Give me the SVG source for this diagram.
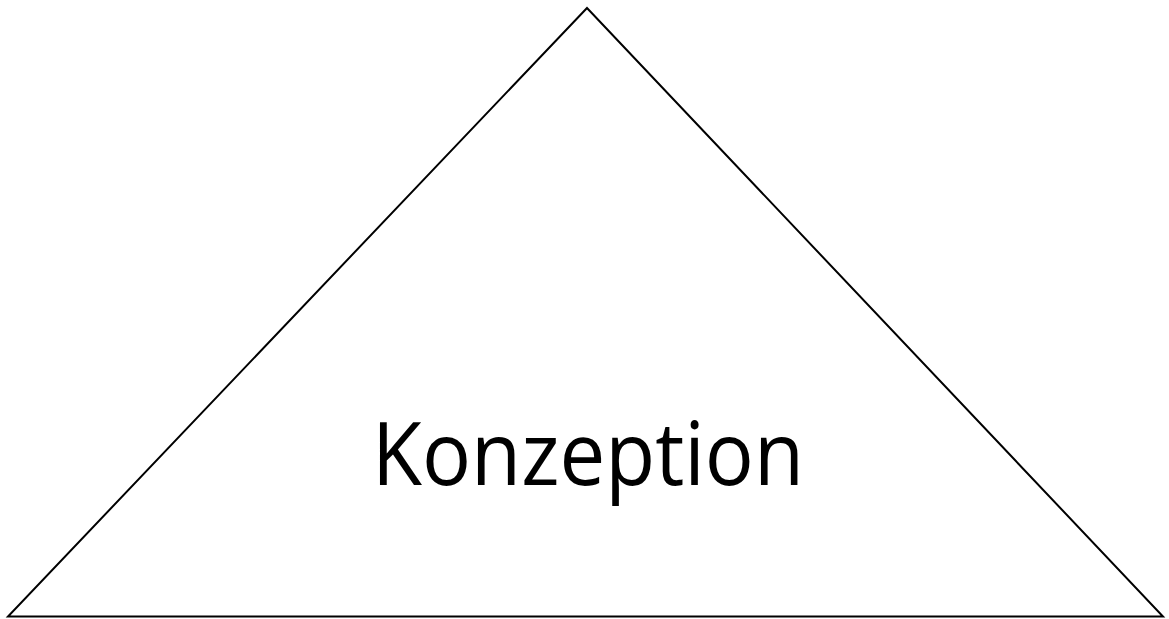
<svg xmlns="http://www.w3.org/2000/svg" width="1169" height="619" viewBox="0 0 1169 619">
<style>
.shape{fill:#ffffff;stroke:#000000;stroke-width:2;stroke-linejoin:miter}
.label{font-family:"Open Sans","Liberation Sans",sans-serif;font-size:88px;fill:#000000}
</style>
<rect width="1169" height="619" fill="#ffffff"/>
<g id="konzeption">
<polygon class="shape" points="587,8 8,616.5 1163,616.5"/>
<text class="label" x="372" y="485" textLength="432" lengthAdjust="spacingAndGlyphs">Konzeption</text>
</g>
<g id="connectors"></g>
</svg>
